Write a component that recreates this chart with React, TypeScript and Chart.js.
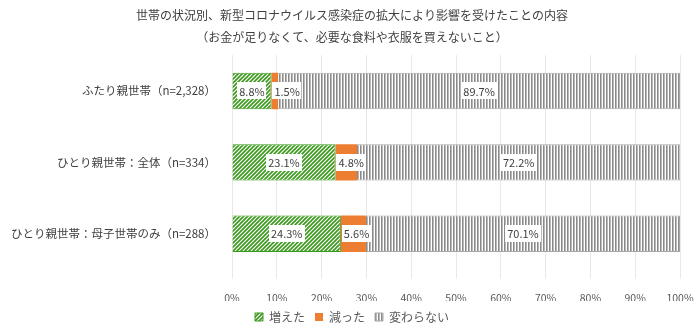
import React, { useEffect, useRef } from "react";
import { Chart, registerables } from "chart.js";

Chart.register(...registerables);

const titleLines = [
  "世帯の状況別、新型コロナウイルス感染症の拡大により影響を受けたことの内容",
  "（お金が足りなくて、必要な食料や衣服を買えないこと）",
];
const categories = [
  "ふたり親世帯（n=2,328）",
  "ひとり親世帯：全体（n=334）",
  "ひとり親世帯：母子世帯のみ（n=288）",
];
const seriesNames = ["増えた", "減った", "変わらない"];
const increased = [8.8, 23.1, 24.3];
const decreased = [1.5, 4.8, 5.6];
const unchanged = [89.7, 72.2, 70.1];

const FONT = '"Noto Sans CJK JP", "Noto Sans", sans-serif';

function makeHatch(): CanvasPattern | string {
  const c = document.createElement("canvas");
  c.width = 4;
  c.height = 4;
  const ctx = c.getContext("2d");
  if (!ctx) return "#4ea72e";
  ctx.fillStyle = "#ffffff";
  ctx.fillRect(0, 0, 4, 4);
  ctx.strokeStyle = "#38991a";
  ctx.lineWidth = 1.6;
  ctx.beginPath();
  ctx.moveTo(-1, 5);
  ctx.lineTo(5, -1);
  ctx.moveTo(-1, 1);
  ctx.lineTo(1, -1);
  ctx.moveTo(3, 5);
  ctx.lineTo(5, 3);
  ctx.stroke();
  return ctx.createPattern(c, "repeat") || "#4ea72e";
}

function makeStripes(): CanvasPattern | string {
  const c = document.createElement("canvas");
  c.width = 3;
  c.height = 4;
  const ctx = c.getContext("2d");
  if (!ctx) return "#999";
  ctx.fillStyle = "#ffffff";
  ctx.fillRect(0, 0, 3, 4);
  ctx.fillStyle = "#8a8a8a";
  ctx.fillRect(0, 0, 1, 4);
  ctx.fillStyle = "#b8b8b8";
  ctx.fillRect(1, 0, 1, 4);
  return ctx.createPattern(c, "repeat") || "#999";
}

const labelPlugin = {
  id: "barLabels",
  afterDatasetsDraw(chart: any) {
    const ctx = chart.ctx;
    ctx.save();
    ctx.font = `11px ${FONT}`;
    ctx.textBaseline = "middle";
    chart.data.datasets.forEach((ds: any, di: number) => {
      const meta = chart.getDatasetMeta(di);
      meta.data.forEach((bar: any, i: number) => {
        const v = ds.data[i];
        const text = `${v.toFixed(1)}%`;
        const tw = ctx.measureText(text).width;
        const left = Math.min(bar.x, bar.base);
        const right = Math.max(bar.x, bar.base);
        const bw = right - left;
        const boxW = tw + 4;
        const boxH = 17;
        let cx = (left + right) / 2;
        if (bw < boxW - 4) cx = left + boxW / 2 + 1;
        ctx.fillStyle = "#ffffff";
        ctx.fillRect(Math.round(cx - boxW / 2), Math.round(bar.y - boxH / 2), Math.round(boxW), boxH);
        ctx.fillStyle = "#404040";
        ctx.textAlign = "center";
        ctx.fillText(text, cx, bar.y + 0.5);
      });
    });
    ctx.restore();
  },
};

export default function App() {
  const ref = useRef<HTMLCanvasElement | null>(null);
  useEffect(() => {
    document.body.style.margin = "0";
    if (!ref.current) return;
    const hatch = makeHatch();
    const stripes = makeStripes();
    const chart = new Chart(ref.current, {
      type: "bar",
      data: {
        labels: categories,
        datasets: [
          {
            label: seriesNames[0],
            data: increased,
            backgroundColor: hatch as any,
            borderColor: "#38991a",
            borderWidth: 1,
          },
          {
            label: seriesNames[1],
            data: decreased,
            backgroundColor: "#ed7d31",
            borderColor: "#ed7d31",
            borderWidth: 0,
          },
          {
            label: seriesNames[2],
            data: unchanged,
            backgroundColor: stripes as any,
            borderColor: "#a6a6a6",
            borderWidth: 1,
          },
        ],
      },
      options: {
        indexAxis: "y",
        responsive: false,
        maintainAspectRatio: false,
        animation: false,
        devicePixelRatio: 1,
        datasets: {
          bar: { barPercentage: 0.51, categoryPercentage: 1 },
        },
        layout: { padding: { left: 4, right: 0, top: 0, bottom: -4 } },
        scales: {
          x: {
            stacked: true,
            min: 0,
            max: 100,
            afterFit: (scale: any) => {
              scale.height = 31.5;
              scale.paddingRight = 20;
            },
            ticks: {
              stepSize: 10,
              color: "#595959",
              font: { family: FONT, size: 10.5 },
              padding: 13.5,
              callback: (v: any) => `${v}%`,
            },
            grid: { color: "#e8e8e8", drawTicks: true, tickLength: 9 },
            border: { display: false },
          },
          y: {
            stacked: true,
            afterFit: (scale: any) => {
              scale.width = 228;
            },
            ticks: {
              color: "#404040",
              font: { family: FONT, size: 11.5 },
              padding: 8,
            },
            grid: { display: false },
            border: { display: false },
          },
        },
        plugins: {
          title: {
            display: true,
            text: titleLines,
            color: "#404040",
            font: { family: FONT, size: 12, weight: "normal", lineHeight: 1.8 },
            padding: { top: 5, bottom: 7 },
          },
          legend: {
            position: "bottom",
            labels: {
              color: "#595959",
              font: { family: FONT, size: 12 },
              boxWidth: 8,
              boxHeight: 8,
              padding: 10,
            },
          },
          tooltip: { enabled: false },
        },
      },
      plugins: [labelPlugin],
    });
    return () => chart.destroy();
  }, []);
  return (
    <div style={{ position: "absolute", left: 0, top: 0, width: 700, height: 329, background: "#fff" }}>
      <canvas ref={ref} width={700} height={329} style={{ width: 700, height: 329 }} />
    </div>
  );
}
